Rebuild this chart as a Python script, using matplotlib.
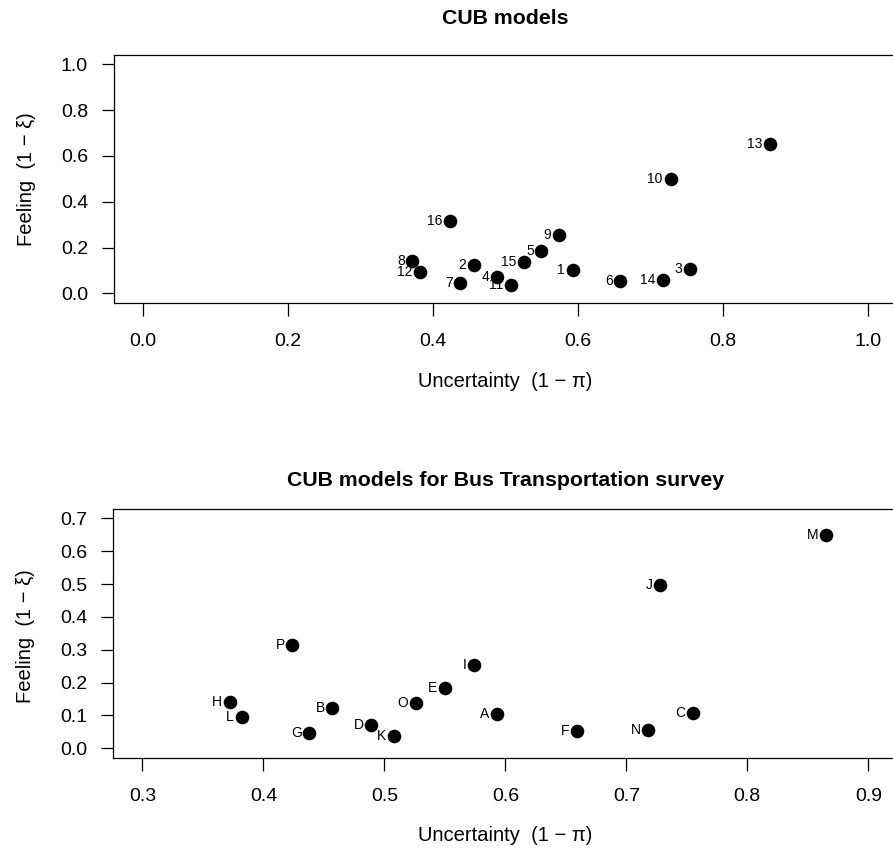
import matplotlib
matplotlib.use("Agg")
import matplotlib.pyplot as plt

plt.rcParams['font.family'] = ['Liberation Sans', 'DejaVu Sans']

# Data (same fitted CUB parameters in both panels)
uncertainty = [0.593, 0.457, 0.755, 0.489, 0.550, 0.659, 0.438, 0.372,
               0.574, 0.728, 0.508, 0.382, 0.865, 0.718, 0.526, 0.424]
feeling = [0.103, 0.124, 0.108, 0.071, 0.185, 0.054, 0.047, 0.141,
           0.254, 0.497, 0.037, 0.095, 0.651, 0.057, 0.137, 0.315]
num_labels = [str(i) for i in range(1, 17)]
letter_labels = list("ABCDEFGHIJKLMNOP")

top_xticks = [0.0, 0.2, 0.4, 0.6, 0.8, 1.0]
top_yticks = [0.0, 0.2, 0.4, 0.6, 0.8, 1.0]
bot_xticks = [0.3, 0.4, 0.5, 0.6, 0.7, 0.8, 0.9]
bot_yticks = [0.0, 0.1, 0.2, 0.3, 0.4, 0.5, 0.6, 0.7]

W, H = 893, 861
fig = plt.figure(figsize=(W / 100, H / 100), dpi=100)

def px_axes(x0, x1, y0, y1):
    return fig.add_axes([x0 / W, 1 - y1 / H, (x1 - x0) / W, (y1 - y0) / H])

ax1 = px_axes(113.7, 896.7, 55.1, 302.5)
ax2 = px_axes(113.4, 897.3, 509.3, 757.5)

def style(ax, xt, yt, xlim, ylim, title, title_pad):
    ax.plot(uncertainty, feeling, 'o', color='black', markersize=9.8,
            markeredgewidth=0, linestyle='none')
    ax.set_xlim(*xlim)
    ax.set_ylim(*ylim)
    ax.set_xticks(xt)
    ax.set_yticks(yt)
    ax.set_xticklabels([f"{v:.1f}" for v in xt])
    ax.set_yticklabels([f"{v:.1f}" for v in yt])
    ax.tick_params(axis='both', direction='out', length=9, width=0.9,
                   labelsize=14, color='black')
    ax.tick_params(axis='x', pad=13.0)
    ax.tick_params(axis='y', pad=9.5)
    for s in ax.spines.values():
        s.set_linewidth(0.9)
        s.set_color('black')
    ax.set_title(title, fontsize=15.3, fontweight='bold', pad=title_pad)
    ax.set_xlabel("Uncertainty  (1 \u2212 \u03c0)", fontsize=14.5, va='top')
    ax.set_ylabel("Feeling  (1 \u2212 \u03be)", fontsize=14.5, va='center')

style(ax1, top_xticks, top_yticks, (-0.04, 1.04), (-0.04, 1.04),
      "CUB models", 22.4)
style(ax2, bot_xticks, bot_yticks, (0.276, 0.924), (-0.028, 0.728),
      "CUB models for Bus Transportation survey", 16.8)

ax1.xaxis.set_label_coords(0.5, -0.280)
ax2.xaxis.set_label_coords(0.5, -0.278)
ax1.yaxis.set_label_coords(-0.112, 0.5)
ax2.yaxis.set_label_coords(-0.112, 0.49)

for ax, labels in ((ax1, num_labels), (ax2, letter_labels)):
    for x, y, t in zip(uncertainty, feeling, labels):
        ax.annotate(t, (x, y), xytext=(-5.5, 0), textcoords='offset points',
                    ha='right', va='center', fontsize=10, color='black')

fig.savefig("out.png", dpi=100)
